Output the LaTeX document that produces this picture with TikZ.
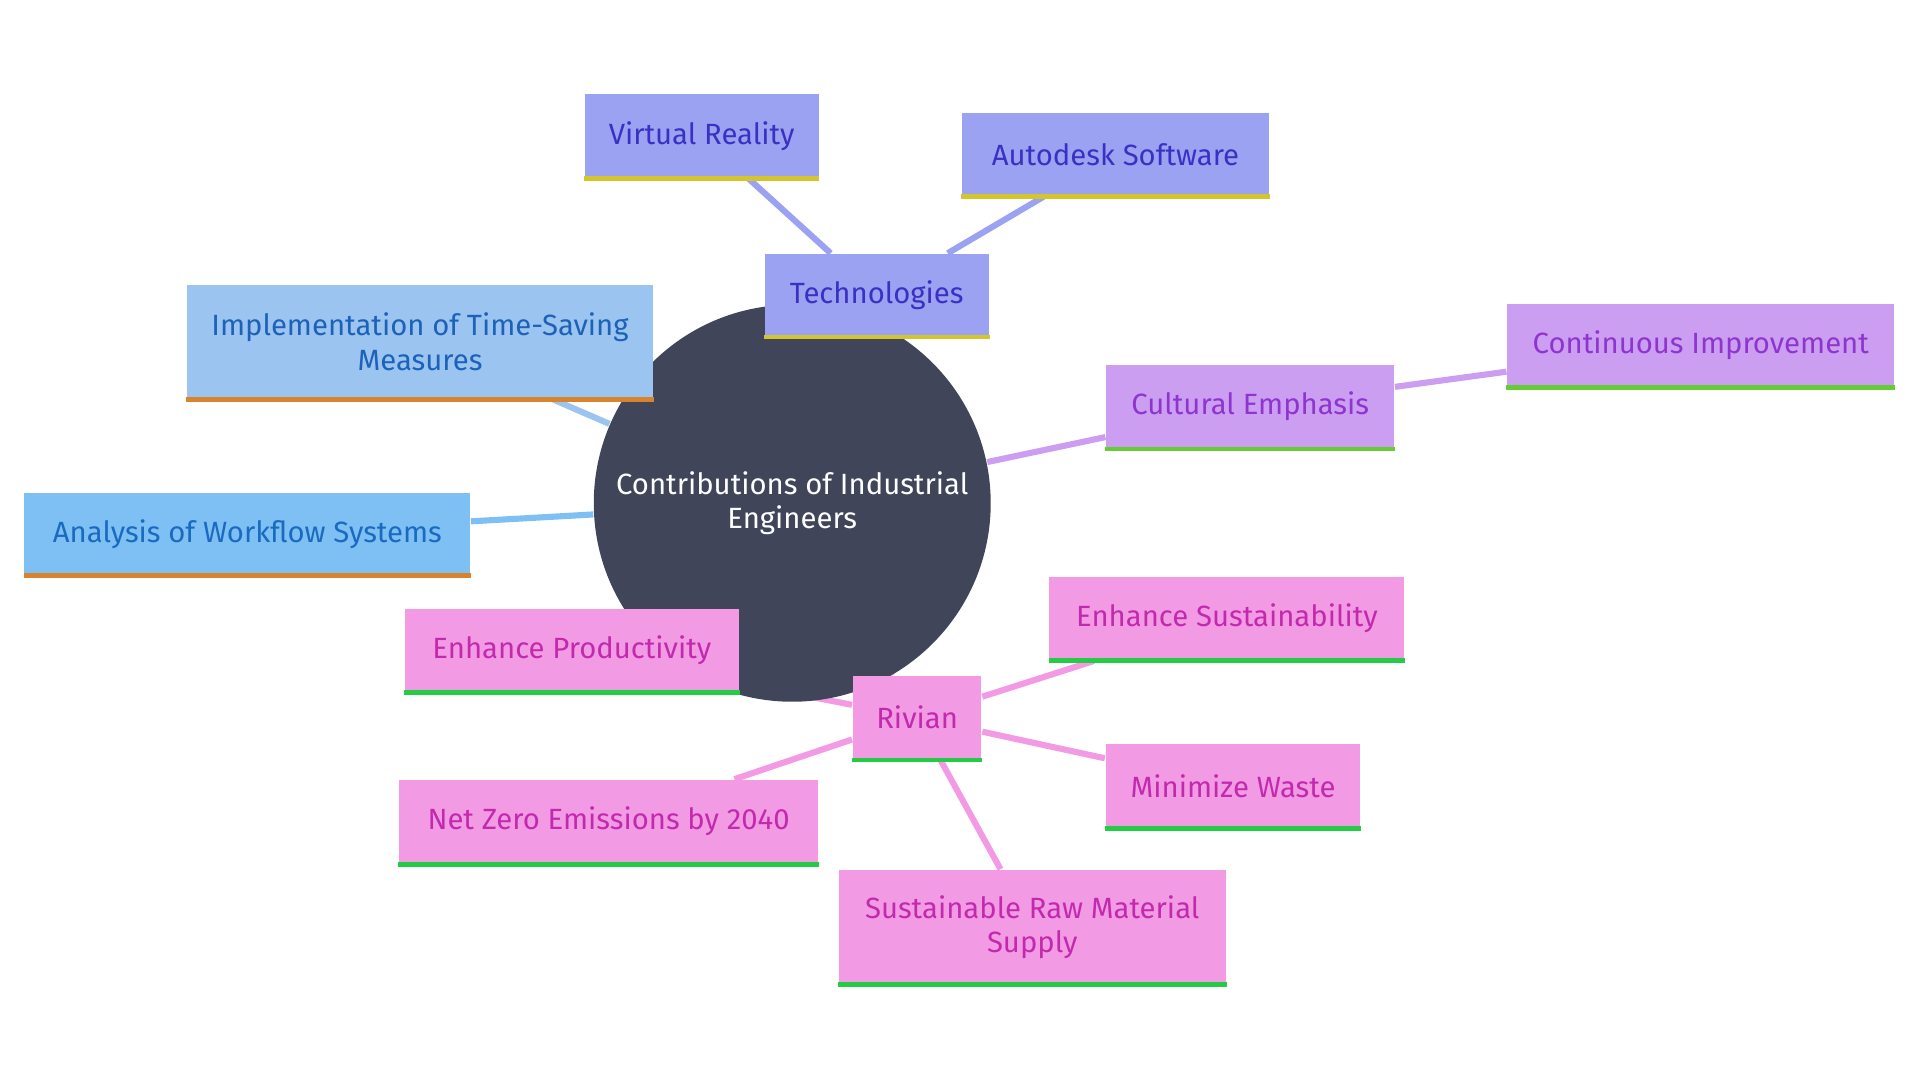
\documentclass[tikz,border=0pt]{standalone}
\usepackage{fontspec}
\setmainfont{Fira Sans}
\usetikzlibrary{positioning,backgrounds}
\definecolor{hub}{HTML}{40455A}
\definecolor{techF}{HTML}{9CA2F2}\definecolor{techT}{HTML}{3A30C4}\definecolor{techL}{HTML}{D4C62A}
\definecolor{implF}{HTML}{9CC4F0}\definecolor{implT}{HTML}{1B62B8}\definecolor{implL}{HTML}{D9832C}
\definecolor{anaF}{HTML}{7EC0F3}\definecolor{anaT}{HTML}{1A6AC0}
\definecolor{culF}{HTML}{CC9EF1}\definecolor{culT}{HTML}{8E34CF}\definecolor{culL}{HTML}{66CC33}
\definecolor{rivF}{HTML}{F39AE5}\definecolor{rivT}{HTML}{C22AAE}\definecolor{rivL}{HTML}{22CC44}
\begin{document}
\begin{tikzpicture}[x=0.01cm, y=-0.01cm, font=\fontsize{6.8}{8}\selectfont]
\tikzset{box/.style={rectangle, inner sep=0pt, align=center},
  lnk/.style={line width=0.05cm}}
\useasboundingbox (0,0) rectangle (1568,882);
\node[circle, fill=hub, minimum size=3.24cm, inner sep=0pt, text=white, align=center] (hubn) at (647,411) {Contributions of Industrial\\Engineers};
% name/x/y/w/h/fill/text/line/label
\foreach \n/\x/\y/\w/\h/\f/\t/\l/\s in {
 tech/716/241/183/67/techF/techT/techL/Technologies,
 vr/573/111/191/68/techF/techT/techL/Virtual Reality,
 auto/911/126/251/68/techF/techT/techL/Autodesk Software,
 impl/343/279/380/93/implF/implT/implL/{Implementation of Time-Saving\\Measures},
 ana/202/436/364/67/anaF/anaT/implL/Analysis of Workflow Systems,
 cul/1021/332/235/68/culF/culT/culL/Cultural Emphasis,
 cont/1389/282/316/67/culF/culT/culL/Continuous Improvement,
 riv/749/586/105/68/rivF/rivT/rivL/Rivian,
 prod/467/531/273/68/rivF/rivT/rivL/Enhance Productivity,
 sust/1002/505/290/68/rivF/rivT/rivL/Enhance Sustainability,
 waste/1007/642/208/68/rivF/rivT/rivL/Minimize Waste,
 net/497/671/342/68/rivF/rivT/rivL/Net Zero Emissions by 2040,
 raw/843/757/316/93/rivF/rivT/rivL/{Sustainable Raw Material\\Supply}}{
 \node[box, fill=\f, text=\t, minimum width=\w*0.01cm, minimum height=\h*0.01cm] (\n) at (\x,\y) {\s};
 \draw[\l, line width=0.04cm] (\n.south west) -- (\n.south east);
}
\begin{scope}[on background layer]
\foreach \a/\b/\c in {hubn/tech/techF,tech/vr/techF,tech/auto/techF,hubn/impl/implF,hubn/ana/anaF,hubn/cul/culF,cul/cont/culF,hubn/riv/rivF,riv/prod/rivF,riv/sust/rivF,riv/waste/rivF,riv/net/rivF,riv/raw/rivF}
 {\draw[lnk, \c] (\a) -- (\b);}
\end{scope}
\end{tikzpicture}
\end{document}
